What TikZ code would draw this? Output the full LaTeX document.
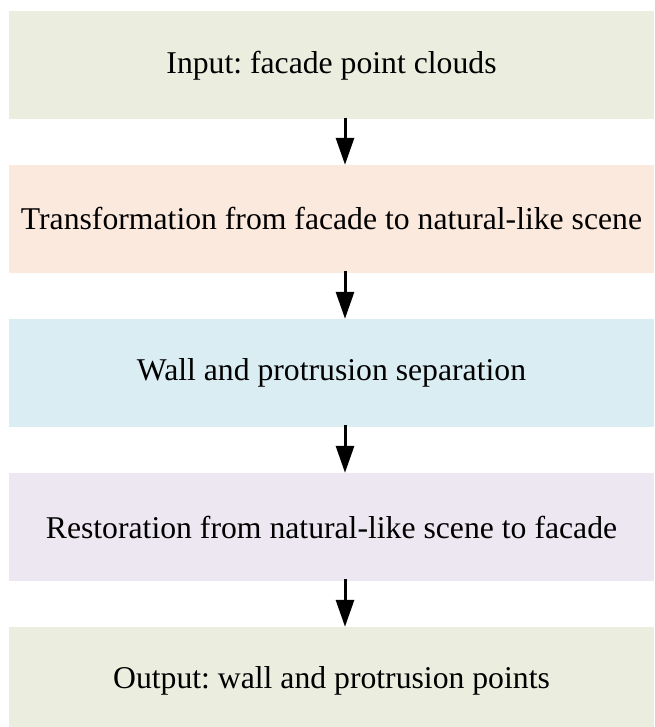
\documentclass[tikz,border=0pt]{standalone}
\usepackage{fontspec}
\setmainfont{Liberation Serif}
\usetikzlibrary{arrows.meta}
\definecolor{cgreen}{HTML}{EBEEDF}
\definecolor{corange}{HTML}{FCE9DD}
\definecolor{cblue}{HTML}{DAEDF3}
\definecolor{cpurple}{HTML}{ECE7F0}
\frenchspacing
\begin{document}
\begin{tikzpicture}[x=1pt,y=1pt,
  box/.style={draw=none,minimum width=645pt,minimum height=108pt,inner sep=0pt,font=\fontsize{31.7}{36}\selectfont},
  flow/.style={line width=3pt,-{Triangle[length=27pt,width=18pt]}}]
\useasboundingbox (0,0) rectangle (654,727);
\begin{scope}
\clip (0,0) rectangle (654,727);
\node[box,fill=cgreen]   (in)  at (331.5,661.5) {Input: facade point clouds};
\node[box,fill=corange]  (tr)  at (331.5,508)   {Transformation from facade to natural-like scene};
\node[box,fill=cblue]    (sep) at (331.5,354)   {Wall and protrusion separation};
\node[box,fill=cpurple]  (rs)  at (331.5,200)   {Restoration from natural-like scene to facade};
\node[box,fill=cgreen]   (out) at (331.5,46)    {Output: wall and protrusion points};
\end{scope}
\draw[flow] ([xshift=13.5pt,yshift=2pt]in.south) -- ([xshift=13.5pt]tr.north);
\draw[flow] ([xshift=13.5pt,yshift=2pt]tr.south) -- ([xshift=13.5pt]sep.north);
\draw[flow] ([xshift=13.5pt,yshift=2pt]sep.south) -- ([xshift=13.5pt]rs.north);
\draw[flow] ([xshift=13.5pt,yshift=2pt]rs.south) -- ([xshift=13.5pt]out.north);
\end{tikzpicture}
\end{document}
